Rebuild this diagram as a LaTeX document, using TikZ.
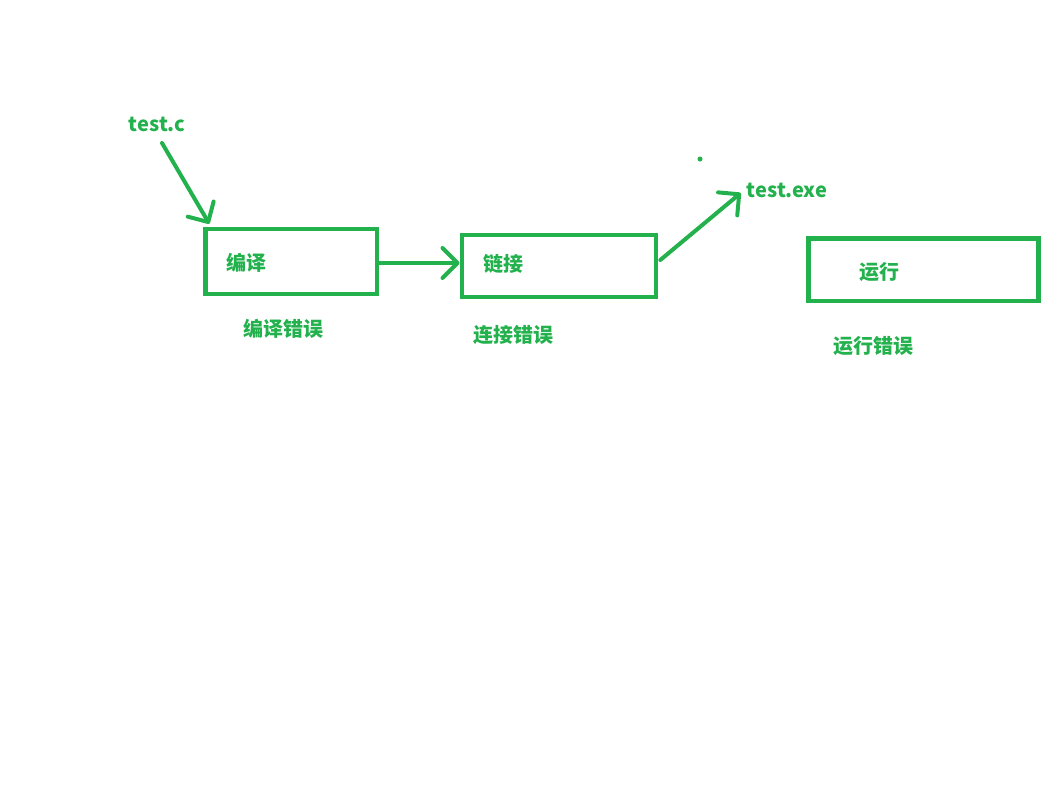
\documentclass[tikz,border=0pt]{standalone}
\usepackage{fontspec}
\setmainfont{Noto Sans CJK SC}
\usetikzlibrary{arrows.meta}
\definecolor{paintgreen}{HTML}{22B14C}

\begin{document}
\begin{tikzpicture}[
    x=1pt, y=-1pt,
    stagebox/.style={
        draw=paintgreen,
        line width=4.5pt,
        inner sep=0pt
    },
    lbl/.style={
        text=paintgreen,
        font=\fontsize{20}{23}\selectfont\bfseries,
        inner sep=0pt
    },
    arrow/.style={
        draw=paintgreen,
        line width=4pt,
        line cap=round,
        -{Straight Barb[round, length=15pt, width=30pt]}
    }
]
\useasboundingbox (0,0) rectangle (1062,809);

% ------------------------
% Stages
% ------------------------
\node[stagebox, minimum width=171.5pt, minimum height=65pt] (compile) at (291.25,261.5) {};
\node[stagebox, minimum width=194.3pt, minimum height=62pt] (link) at (558.9,266) {};
\node[stagebox, minimum width=230pt, minimum height=62.5pt] (run) at (923.5,269.75) {};

\node[lbl] (compiletxt) at (246,263) {编译};
\node[lbl] (linktxt) at (503,264) {链接};
\node[lbl] (runtxt) at (879,272) {运行};

% ------------------------
% Errors
% ------------------------
\node[lbl] (compileerr) at (283,329) {编译错误};
\node[lbl] (linkerr) at (513,335) {连接错误};
\node[lbl] (runerr) at (873,346) {运行错误};

% ------------------------
% Files
% ------------------------
\node[lbl] (source) at (157,124) {test.c};
\node[lbl] (exe) at (787,190) {test.exe};
\node[fill=paintgreen, circle, inner sep=0pt, minimum size=5pt] (speck) at (700,159) {};

% ------------------------
% Arrows
% ------------------------
\draw[arrow] ([xshift=5pt, yshift=-19pt]source.center) -- ([xshift=6pt, yshift=3pt]compile.north west);
\draw[arrow] (compile.east |- 0,263) -- (link.west |- 0,263);
\draw[arrow] ([xshift=2pt, yshift=6pt]link.east) -- ([xshift=-6pt, yshift=-3pt]exe.west);

\end{tikzpicture}
\end{document}
